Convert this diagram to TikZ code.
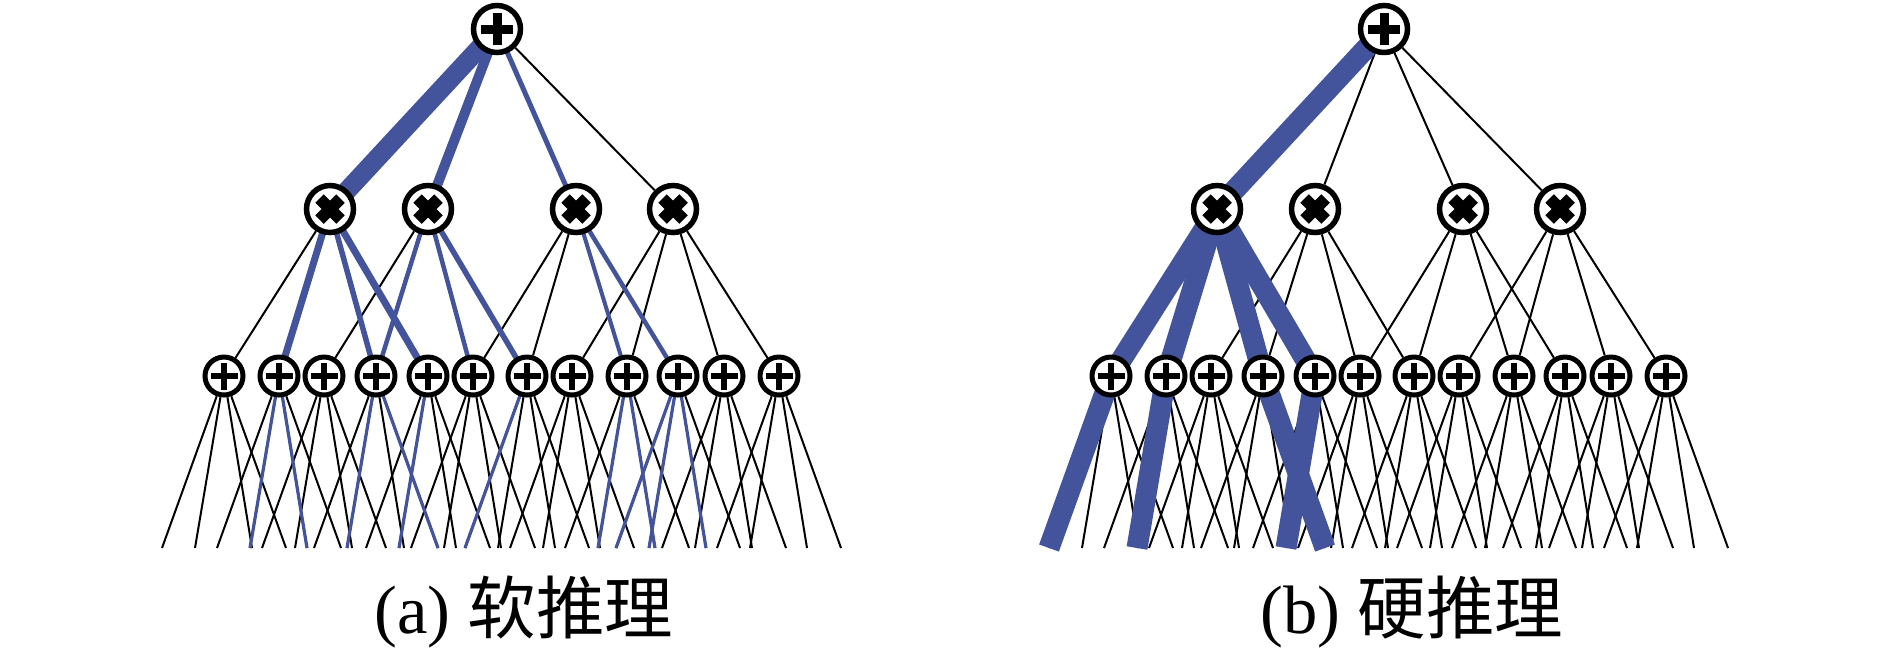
\documentclass[tikz,border=0pt]{standalone}
\usepackage{fontspec}
\setmainfont{Liberation Serif}
\newfontfamily\cjk{Noto Sans CJK SC}
\usetikzlibrary{backgrounds}
\definecolor{spnblue}{RGB}{68,84,156}

\begin{document}
\begin{tikzpicture}[x=0.1mm, y=-0.1mm,
    plusmark/.style 2 args={path picture={
        \draw[line width=#2] (path picture bounding box.center) ++(-#1,0pt) -- ++(2*#1,0pt)
             (path picture bounding box.center) ++(0pt,-#1) -- ++(0pt,2*#1);}},
    timesmark/.style 2 args={path picture={
        \draw[line width=#2] (path picture bounding box.center) ++(-#1,-#1) -- ++(2*#1,2*#1)
             (path picture bounding box.center) ++(-#1,#1) -- ++(2*#1,-2*#1);}},
    rootnode/.style={circle, draw, fill=white, line width=0.55mm, inner sep=0pt,
                     minimum size=4.7mm, plusmark={1.6mm}{0.9mm}},
    prodnode/.style={circle, draw, fill=white, line width=0.55mm, inner sep=0pt,
                     minimum size=4.7mm, timesmark={1.05mm}{1.2mm}},
    sumnode/.style={circle, draw, fill=white, line width=0.5mm, inner sep=0pt,
                    minimum size=3.8mm, plusmark={1.35mm}{0.65mm}},
    wire/.style={draw=black, line width=0.2mm},
    softwire/.style={draw=spnblue, line width=#1},
    hardwire/.style={draw=spnblue, line width=2.1mm},
    captiontext/.style={font=\fontsize{19.5}{23}\selectfont, inner sep=0pt},
]
\useasboundingbox (0,0) rectangle (1890,657);

% both networks share the same skeleton
\foreach \p/\dx in {a/0, b/887} {
  % root sum node
  \node[rootnode] (\p-root) at (\dx+497, 29) {};
  % product layer
  \foreach \j/\mx in {1/330, 2/428, 3/576, 4/673}
    \node[prodnode] (\p-p\j) at (\dx+\mx, 209) {};
  % sum layer and its indicator ends
  \foreach \i/\lx in {1/224, 2/279, 3/324, 4/376, 5/428, 6/473,
                      7/527, 8/572, 9/627, 10/678, 11/724, 12/779} {
    \node[sumnode] (\p-s\i) at (\dx+\lx, 376) {};
    \foreach \k/\off in {1/-62, 2/-29, 3/28, 4/62}
      \coordinate (\p-s\i-\k) at (\dx+\lx+\off, 548);
  }
  % plain connections
  \begin{scope}[on background layer]
    \foreach \j in {1,...,4}
      \draw[wire] (\p-root) -- (\p-p\j);
    \foreach \j/\kids in {1/{1,2,4,5}, 2/{3,4,6,7}, 3/{6,7,9,10}, 4/{8,9,11,12}}
      \foreach \i in \kids
        \draw[wire] (\p-p\j) -- (\p-s\i);
    \foreach \i in {1,...,12}
      \foreach \k in {1,...,4}
        \draw[wire] (\p-s\i) -- (\p-s\i-\k);
  \end{scope}
}

% (a) soft inference paths
\begin{scope}[on background layer]
  \draw[softwire=1.9mm] (a-root.center) -- (a-p1.center);
  \draw[softwire=1mm] (a-root.center) -- (a-p2.center);
  \draw[softwire=0.5mm] (a-root.center) -- (a-p3.center);
  \draw[softwire=0.7mm] (a-p1.center) -- (a-s2.center);
  \draw[softwire=0.55mm] (a-p1.center) -- (a-s4.center);
  \draw[softwire=0.7mm] (a-p1.center) -- (a-s5.center);
  \draw[softwire=0.45mm] (a-p2.center) -- (a-s4.center);
  \draw[softwire=0.45mm] (a-p2.center) -- (a-s6.center);
  \draw[softwire=0.55mm] (a-p2.center) -- (a-s7.center);
  \draw[softwire=0.4mm] (a-p3.center) -- (a-s9.center);
  \draw[softwire=0.45mm] (a-p3.center) -- (a-s10.center);
  \foreach \i/\k in {2/2, 2/3, 4/2, 4/4, 5/2, 7/1, 9/2, 9/3, 10/1, 10/2, 10/3}
    \draw[softwire=0.32mm] (a-s\i.center) -- (a-s\i-\k);
\end{scope}

% (b) hard inference path
\begin{scope}[on background layer]
  \draw[hardwire] (b-root.center) -- (b-p1.center);
  \foreach \i/\k in {1/1, 2/2, 4/4, 5/2}
    \draw[hardwire] (b-p1.center) -- (b-s\i.center) -- (b-s\i-\k);
\end{scope}

% captions
\node[captiontext] (capa) at (524, 612) {(a) {\cjk 软推理}};
\node[captiontext] (capb) at (1412, 612) {(b) {\cjk 硬推理}};

\end{tikzpicture}
\end{document}
